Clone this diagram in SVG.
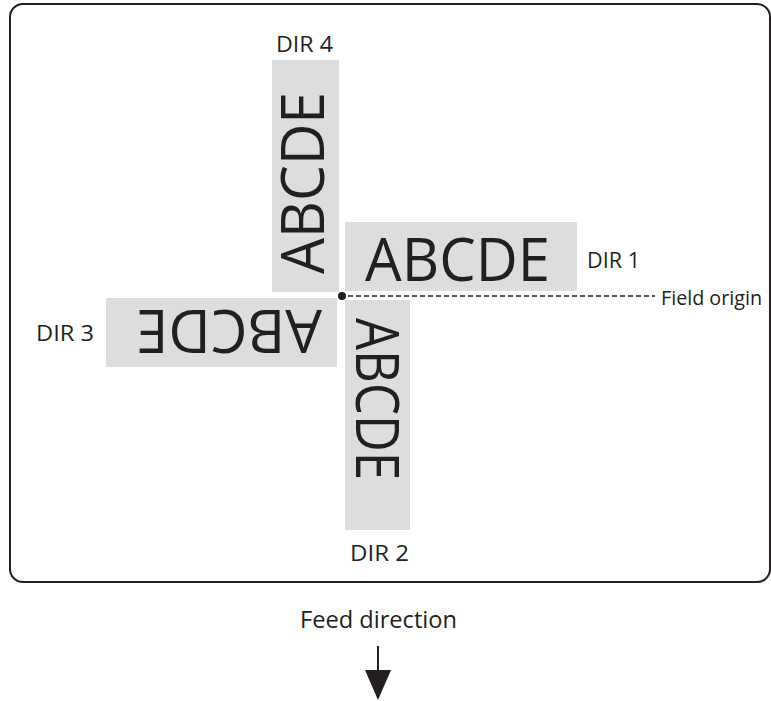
<svg xmlns="http://www.w3.org/2000/svg" width="771" height="701" viewBox="0 0 771 701">
<defs>
<style>
.box{fill:#dcdddf}
.big{font-family:"Open Sans","Noto Sans",sans-serif;font-size:60px;fill:#231f20}
.lbl{font-family:"Open Sans","Noto Sans",sans-serif;font-size:22px;fill:#231f20}
.frame{fill:none;stroke:#231f20;stroke-width:2}
</style>
</defs>
<rect class="frame" x="10" y="4" width="760" height="578" rx="13"/>
<g id="dir4">
<rect class="box" x="272" y="60" width="67" height="232"/>
<text class="big" transform="translate(324,274) rotate(-90)" textLength="182" lengthAdjust="spacingAndGlyphs">ABCDE</text>
<text class="lbl" x="276" y="52" textLength="57" lengthAdjust="spacingAndGlyphs">DIR 4</text>
</g>
<g id="dir1">
<rect class="box" x="345" y="222" width="232" height="69"/>
<text class="big" x="365" y="281" textLength="185" lengthAdjust="spacingAndGlyphs">ABCDE</text>
<text class="lbl" x="587" y="268" textLength="53" lengthAdjust="spacingAndGlyphs">DIR 1</text>
</g>
<g id="dir3">
<rect class="box" x="106" y="298" width="231" height="69"/>
<text class="big" transform="translate(322,310) rotate(180)" textLength="186" lengthAdjust="spacingAndGlyphs">ABCDE</text>
<text class="lbl" x="36" y="341" textLength="58" lengthAdjust="spacingAndGlyphs">DIR 3</text>
</g>
<g id="dir2">
<rect class="box" x="345" y="300" width="65" height="230"/>
<text class="big" transform="translate(356,318) rotate(90)" textLength="162" lengthAdjust="spacingAndGlyphs">ABCDE</text>
<text class="lbl" x="350" y="561" textLength="59" lengthAdjust="spacingAndGlyphs">DIR 2</text>
</g>
<g id="origin">
<circle cx="342" cy="296" r="4" fill="#231f20"/>
<text class="lbl" x="661" y="305" style="font-size:20px" textLength="101" lengthAdjust="spacingAndGlyphs">Field origin</text>
</g>
<g id="feed">
<text class="lbl" x="300" y="628" style="font-size:24px" textLength="157" lengthAdjust="spacingAndGlyphs">Feed direction</text>
</g>
<g id="connectors">
<line x1="348" y1="296" x2="655" y2="296" stroke="#231f20" stroke-width="1.3" stroke-dasharray="5,3"/>
<line x1="378" y1="646" x2="378" y2="672" stroke="#231f20" stroke-width="2"/>
<polygon points="365,670 391,670 378,700" fill="#231f20"/>
</g>
</svg>
